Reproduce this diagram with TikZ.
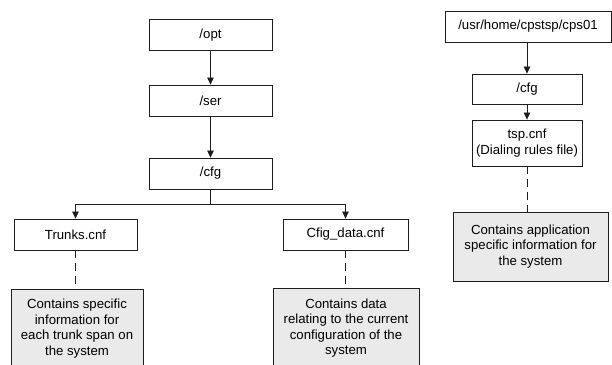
\documentclass[tikz,border=0pt]{standalone}
\usepackage{fontspec}
\setmainfont{Liberation Sans}
\usetikzlibrary{arrows.meta}
\definecolor{notegray}{RGB}{234,234,234}
\definecolor{linegray}{RGB}{30,30,30}
\begin{document}
\begin{tikzpicture}[x=1pt, y=1pt, line width=0.8pt, draw=linegray,
  font=\fontsize{13.2}{15.5}\selectfont,
  dirbox/.style={draw, minimum height=31pt, inner sep=2pt, align=center},
  notebox/.style={draw, fill=notegray, inner sep=2pt, align=center},
  link/.style={-{Triangle[length=7pt,width=6.5pt]}},
  hint/.style={dash pattern=on 8pt off 5pt}]
\useasboundingbox (0,0) rectangle (612,364);

% left tree
\node[dirbox, minimum width=123pt] (opt) at (210.5,329) {/opt};
\node[dirbox, minimum width=123pt] (ser) at (210.5,263.5) {/ser};
\node[dirbox, minimum width=123pt] (cfg) at (210.5,190.5) {/cfg};
\node[dirbox, minimum width=123pt] (trunks) at (75.5,129.5) {Trunks.cnf};
\node[dirbox, minimum width=125pt] (cfgdata) at (345.5,129.5) {Cfig\_data.cnf};

\node[notebox, minimum width=132pt, minimum height=79pt] (trunksnote) at (77,35.5)
  {Contains specific\\information for\\each trunk span on\\the system};
\node[notebox, minimum width=146pt, minimum height=80pt] (cfgdatanote) at (346,36)
  {Contains data\\relating to the current\\configuration of the\\system};

\draw[link] (opt) -- (ser);
\draw[link] (ser) -- (cfg);
\coordinate (fork) at (210.5,160);
\draw (cfg) -- (fork);
\draw[link] (fork) -| (trunks);
\draw[link] (fork) -| (cfgdata);

\draw[hint] (trunks) -- (trunks |- trunksnote.north);
\draw[hint] (cfgdata) -- (cfgdata |- cfgdatanote.north);

% right tree
\node[dirbox, minimum width=166pt] (usr) at (528,337.5) {/usr/home/cpstsp/cps01};
\node[dirbox, minimum width=110pt, minimum height=30pt] (rcfg) at (527,275) {/cfg};
\node[dirbox, minimum width=110pt, minimum height=46pt] (tsp) at (527,221)
  {tsp.cnf\\(Dialing rules file)};
\node[notebox, minimum width=155pt, minimum height=69pt] (tspnote) at (530.5,117.5)
  {Contains application\\specific information for\\the system};

\draw[link] (usr.south -| rcfg) -- (rcfg);
\draw[link] (rcfg) -- (tsp);
\draw[hint] (tsp) -- (tsp |- tspnote.north);
\end{tikzpicture}
\end{document}
